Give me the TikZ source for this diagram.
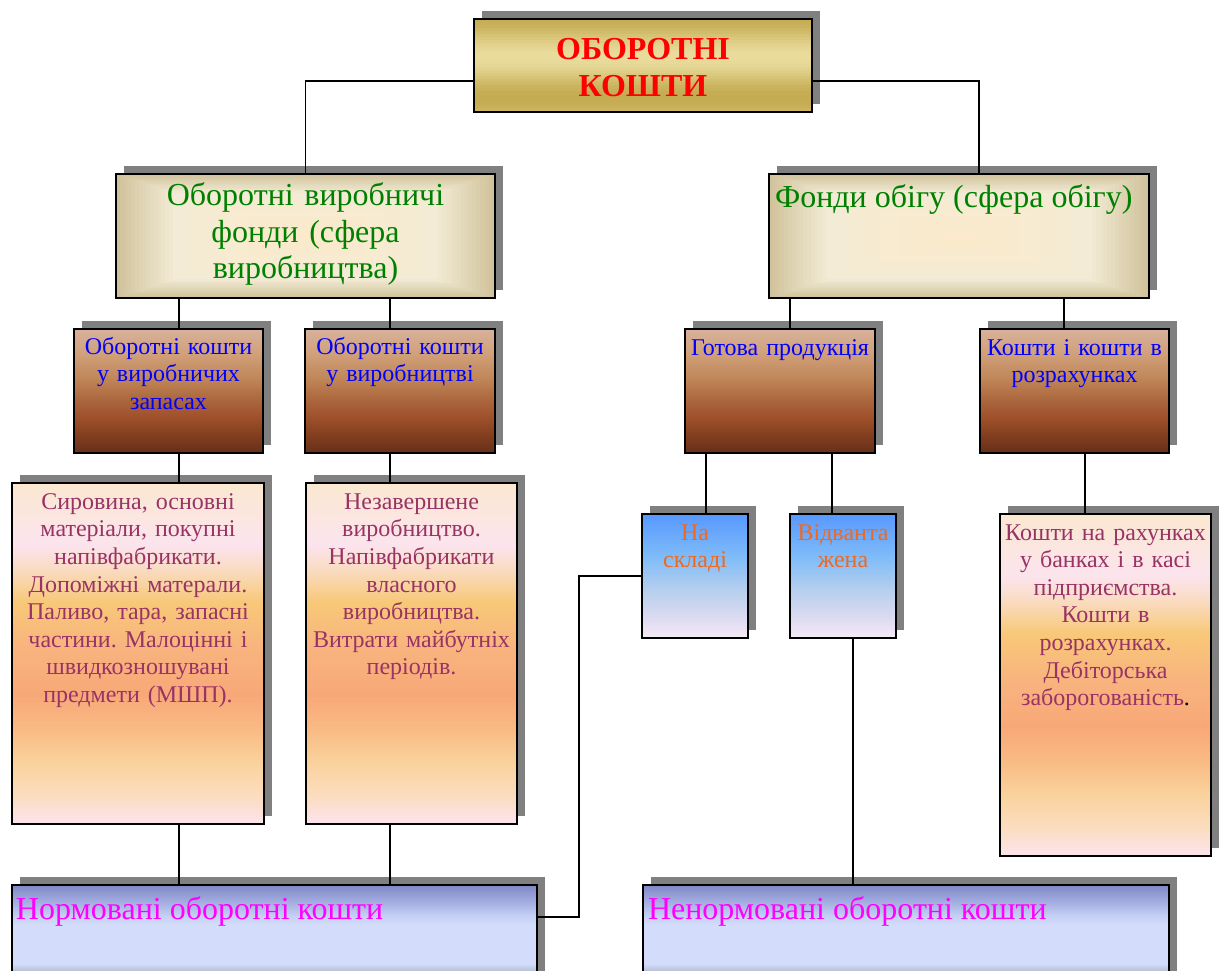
\documentclass[tikz,border=0pt]{standalone}
\usepackage{fontspec}
\setmainfont{Liberation Serif}
\usetikzlibrary{calc}
\frenchspacing

\definecolor{shadowgray}{HTML}{808080}
\definecolor{gL}{HTML}{E9DC9C}
\definecolor{gD}{HTML}{C5AB52}
\definecolor{bD}{HTML}{D0C39C}
\definecolor{bL}{HTML}{F3EBD5}
\definecolor{bC}{HTML}{FCEACA}
\definecolor{br1}{HTML}{D8B19B}
\definecolor{br2}{HTML}{D0A07A}
\definecolor{br3}{HTML}{C08658}
\definecolor{br4}{HTML}{AE6A40}
\definecolor{br5}{HTML}{A0522D}
\definecolor{br6}{HTML}{843F1F}
\definecolor{br7}{HTML}{65301A}
\definecolor{pa0}{HTML}{FBE8D0}
\definecolor{pa1}{HTML}{FCE4EE}
\definecolor{pa2}{HTML}{FADCC4}
\definecolor{pa3}{HTML}{F8C878}
\definecolor{pa4}{HTML}{F8B47E}
\definecolor{pa5}{HTML}{F8A878}
\definecolor{pa6}{HTML}{F9BA84}
\definecolor{pa7}{HTML}{FAD29C}
\definecolor{pa8}{HTML}{FBDDC0}
\definecolor{pa9}{HTML}{FCE4EE}
\definecolor{bl0}{HTML}{5898FF}
\definecolor{bl1}{HTML}{7FBCF8}
\definecolor{bl2}{HTML}{B4CEEE}
\definecolor{bl3}{HTML}{DEDCF0}
\definecolor{bl4}{HTML}{F8EAF8}
\definecolor{pw0}{HTML}{7F88C6}
\definecolor{pw1}{HTML}{A0AADE}
\definecolor{pw2}{HTML}{C4CFF4}
\definecolor{pw3}{HTML}{D3DDFB}
\definecolor{pw4}{HTML}{B8C1D6}
\definecolor{txgreen}{RGB}{0,128,0}
\definecolor{txblue}{RGB}{0,0,255}
\definecolor{txpurple}{HTML}{993366}
\definecolor{txorange}{RGB}{240,104,32}
\definecolor{txmagenta}{RGB}{255,0,255}
\definecolor{txred}{RGB}{255,0,0}

\pgfdeclareverticalshading{brownsh}{100bp}{color(0bp)=(br7); color(25bp)=(br7); color(32.5bp)=(br6); color(40bp)=(br5); color(47.5bp)=(br4); color(55bp)=(br3); color(65bp)=(br2); color(75bp)=(br1); color(100bp)=(br1)}
\pgfdeclareverticalshading{peachsh}{100bp}{color(0bp)=(pa9); color(25bp)=(pa9); color(29bp)=(pa8); color(34bp)=(pa7); color(39bp)=(pa6); color(44bp)=(pa5); color(51bp)=(pa4); color(57.5bp)=(pa3); color(62.5bp)=(pa2); color(66bp)=(pa1); color(75bp)=(pa0); color(100bp)=(pa0)}
\pgfdeclareverticalshading{bluesh}{100bp}{color(0bp)=(bl4); color(25bp)=(bl4); color(32.5bp)=(bl3); color(45bp)=(bl2); color(57.5bp)=(bl1); color(75bp)=(bl0); color(100bp)=(bl0)}
\pgfdeclareverticalshading{perish}{100bp}{color(0bp)=(pw4); color(25bp)=(pw4); color(30bp)=(pw4); color(33.5bp)=(pw3); color(54bp)=(pw3); color(59bp)=(pw2); color(67bp)=(pw1); color(75bp)=(pw0); color(100bp)=(pw0)}

\newcommand\mkbox[6]{%
  \node[shadowbox, minimum width=#4pt, minimum height=#5pt] (#1-sh) at ({#2+8},{#3-8}) {};
  \node[boxbase, #6, minimum width=#4pt, minimum height=#5pt] (#1) at (#2,#3) {};
}

\begin{document}
\begin{tikzpicture}[x=1pt,y=-1pt,
  boxbase/.style={draw=black, line width=2.2pt, anchor=north west, inner sep=0pt, outer sep=0pt},
  shadowbox/.style={fill=shadowgray, draw=none, anchor=north west, inner sep=0pt, outer sep=0pt},
  conn/.style={draw=black, line width=1.6pt},
  goldbox/.style={path picture={
    \foreach \u in {-100,-97,...,100}{
      \pgfmathtruncatemacro\myp{50+50*cos(4.3902*(\u+9.5))}
      \fill[gL!\myp!gD, shift={(path picture bounding box.center)}, rotate=15] (-300,\u) rectangle (300,\u+3.4);
    }}},
  beigebox/.style={path picture={
    \foreach \i in {0,...,15}{
      \pgfmathsetmacro\myt{\i*0.01}
      \pgfmathtruncatemacro\myp{\i*100/15}
      \fill[bL!\myp!bD] ($(path picture bounding box.south west)!\myt!(path picture bounding box.north east)$) rectangle ($(path picture bounding box.north east)!\myt!(path picture bounding box.south west)$);
    }
    \foreach \i in {1,...,12}{
      \pgfmathsetmacro\myt{0.15+\i*0.028}
      \pgfmathtruncatemacro\myp{\i*100/12}
      \fill[bC!\myp!bL] ($(path picture bounding box.south west)!\myt!(path picture bounding box.north east)$) rectangle ($(path picture bounding box.north east)!\myt!(path picture bounding box.south west)$);
    }}},
  brownbox/.style={shade, shading=brownsh},
  peachbox/.style={shade, shading=peachsh},
  bluebox/.style={shade, shading=bluesh},
  peribox/.style={shade, shading=perish},
  tx/.style={inner sep=0pt, outer sep=0pt, anchor=base, align=center},
  f32/.style={font=\fontsize{32}{36.7}\selectfont\frenchspacing},
  f24/.style={font=\fontsize{24}{27.6}\selectfont\frenchspacing},
]
\useasboundingbox (0,0) rectangle (1220,971);
\fill[white] (0,0) rectangle (1220,971);
\clip (0,0) rectangle (1220,971);

% boxes
\mkbox{top}{474}{19}{338}{93}{goldbox}
\mkbox{L2a}{116}{174}{379}{124}{beigebox}
\mkbox{L2b}{769}{174}{380}{124}{beigebox}
\mkbox{A}{74}{329}{189}{124}{brownbox}
\mkbox{B}{305}{329}{190}{124}{brownbox}
\mkbox{C}{685}{329}{190}{124}{brownbox}
\mkbox{D}{980}{329}{189}{124}{brownbox}
\mkbox{E}{12}{483}{252}{341}{peachbox}
\mkbox{F}{306}{483}{211}{341}{peachbox}
\mkbox{G}{642}{514}{106}{124}{bluebox}
\mkbox{H}{790}{514}{106}{124}{bluebox}
\mkbox{I}{1000}{514}{211}{342}{peachbox}
\mkbox{J}{12}{885}{525}{95}{peribox}
\mkbox{K}{643}{885}{526}{95}{peribox}

% texts
\node[tx, text width=330pt, text=txred, font=\fontsize{32}{37.4}\selectfont\bfseries] (topt) at ([yshift=-40.3pt]top.north) {ОБОРОТНІ\\КОШТИ};
\node[tx, f32, text width=370pt, text=txgreen] (L2at) at ([yshift=-31.5pt]L2a.north) {Оборотні виробничі\\фонди (сфера\\виробництва)};
\node[inner sep=0pt, outer sep=0pt, anchor=base west, f32, text=txgreen] (L2bt) at ([xshift=6pt,yshift=-33pt]L2b.north west) {Фонди обігу (сфера обігу)};

\node[tx, f24, text width=220pt, text=txblue] (At) at ([yshift=-25pt]A.north) {Оборотні кошти\\у виробничих\\запасах};
\node[tx, f24, text width=220pt, text=txblue] (Bt) at ([yshift=-25pt]B.north) {Оборотні кошти\\у виробництві};
\node[tx, f24, text width=220pt, text=txblue] (Ct) at ([yshift=-26pt]C.north) {Готова продукція};
\node[tx, f24, text width=220pt, text=txblue] (Dt) at ([yshift=-26pt]D.north) {Кошти і кошти в\\розрахунках};

\node[tx, f24, text width=280pt, text=txpurple] (Et) at ([yshift=-26.3pt]E.north) {Сировина, основні\\матеріали, покупні\\напівфабрикати.\\Допоміжні матерали.\\Паливо, тара, запасні\\частини. Малоцінні і\\швидкозношувані\\предмети (МШП).};
\node[tx, f24, text width=240pt, text=txpurple] (Ft) at ([yshift=-26.3pt]F.north) {Незавершене\\виробництво.\\Напівфабрикати\\власного\\виробництва.\\Витрати майбутніх\\періодів.};
\node[tx, f24, text width=140pt, text=txorange] (Gt) at ([yshift=-26pt]G.north) {На\\складі};
\node[tx, f24, text width=140pt, text=txorange] (Ht) at ([yshift=-26pt]H.north) {Відванта\\жена};
\node[tx, f24, text width=240pt, text=txpurple] (It) at ([yshift=-26pt]I.north) {Кошти на рахунках\\у банках і в касі\\підприємства.\\Кошти в\\розрахунках.\\Дебіторська\\заборогованість{\color{black}.}};

\node[inner sep=0pt, outer sep=0pt, anchor=base west, f32, text=txmagenta] (Jt) at ([xshift=4pt,yshift=-34pt]J.north west) {Нормовані оборотні кошти};
\node[inner sep=0pt, outer sep=0pt, anchor=base west, f32, text=txmagenta] (Kt) at ([xshift=5pt,yshift=-34pt]K.north west) {Ненормовані оборотні кошти};

% connector columns
\coordinate (vA) at (179,0);
\coordinate (vB) at (390,0);
\coordinate (vC) at (790,0);
\coordinate (vD) at (1064,0);
\coordinate (vG) at (706,0);
\coordinate (vH) at (832,0);
\coordinate (vK) at (853,0);
\coordinate (vI) at (1085,0);
\coordinate (vR) at (979,0);
\coordinate (vJ) at (579,700);

% connectors
\draw[conn] ([yshift=-15.5pt]top.west) -| (L2a.north);
\draw[conn] ([yshift=-15.5pt]top.east) -| (vR |- L2b.north);
\draw[conn] (vA |- L2a.south) -- (vA |- A.north);
\draw[conn] (vB |- L2a.south) -- (vB |- B.north);
\draw[conn] (vC |- L2b.south) -- (vC |- C.north);
\draw[conn] (vD |- L2b.south) -- (vD |- D.north);
\draw[conn] (vA |- A.south) -- (vA |- E.north);
\draw[conn] (vB |- B.south) -- (vB |- F.north);
\draw[conn] (vG |- C.south) -- (vG |- G.north);
\draw[conn] (vH |- C.south) -- (vH |- H.north);
\draw[conn] (vI |- D.south) -- (vI |- I.north);
\draw[conn] (vA |- E.south) -- (vA |- J.north);
\draw[conn] (vB |- F.south) -- (vB |- J.north);
\draw[conn] (vK |- H.south) -- (vK |- K.north);
\draw[conn] (G.west) -| (vJ) |- ([yshift=15.5pt]J.east);
\end{tikzpicture}
\end{document}
